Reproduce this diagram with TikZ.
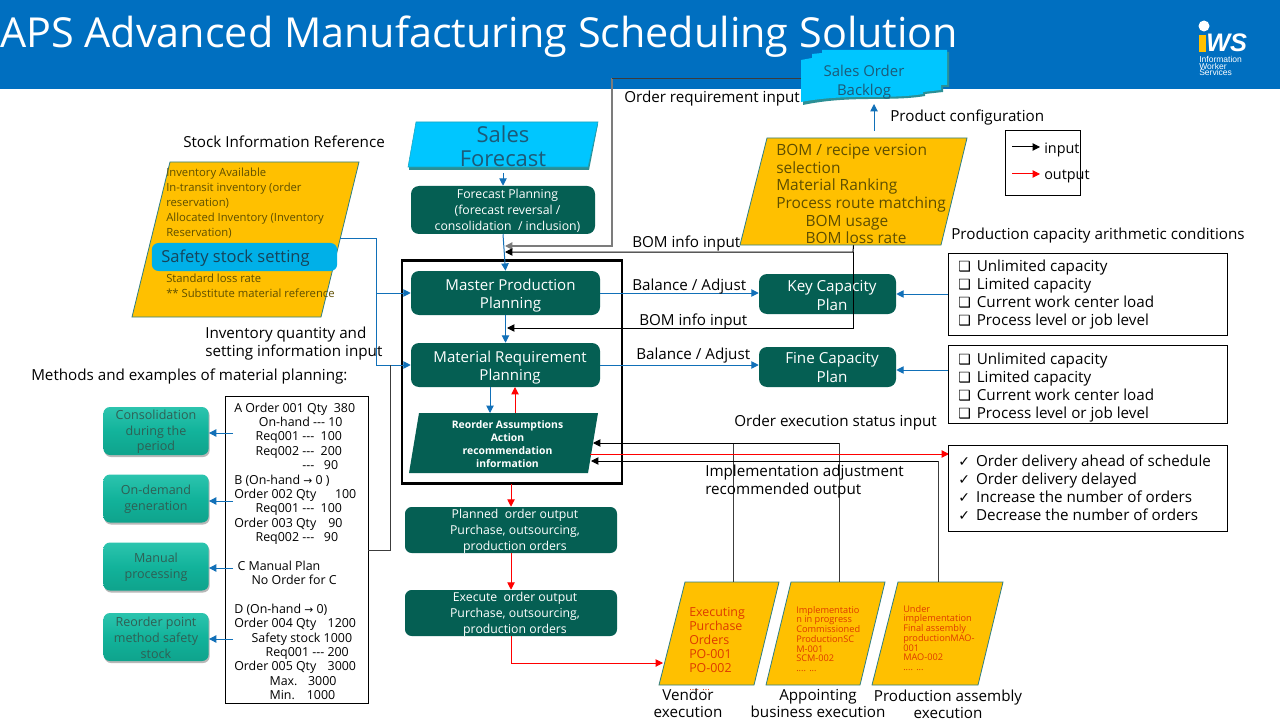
\documentclass[tikz,border=0pt]{standalone}
\usepackage{fontspec}
\setmainfont{Open Sans}
\newfontfamily\symfont{DejaVu Sans}
\newfontfamily\logofont{Liberation Sans}
\usetikzlibrary{arrows.meta,calc}
\definecolor{hdr}{HTML}{006FC0}
\definecolor{dkgreen}{HTML}{055F53}
\definecolor{yel}{HTML}{FFC000}
\definecolor{paraedge}{HTML}{2F7F85}
\definecolor{cyanf}{HTML}{00C6FF}
\definecolor{cyans}{HTML}{2C8F95}
\definecolor{pill}{HTML}{00B0E8}
\definecolor{olive}{HTML}{5E4E00}
\definecolor{navy}{HTML}{1D5A78}
\definecolor{linkblue}{HTML}{1170B8}
\definecolor{mint}{HTML}{12B39B}
\definecolor{mintl}{HTML}{2CC4AE}
\definecolor{mintb}{HTML}{0FA38C}
\definecolor{minttxt}{HTML}{2F5F54}
\definecolor{redtxt}{HTML}{DE3A00}
\definecolor{cgray}{HTML}{7C7C7C}
\definecolor{cdark}{HTML}{3C3C3C}
\newcommand{\fs}[1]{\fontsize{#1}{#1}\selectfont}
\newcommand{\fsl}[2]{\fontsize{#1}{#2}\selectfont}
\tikzset{
  x=0.75pt,y=-0.75pt,
  lbl/.style={anchor=mid west,inner sep=0pt,text=black,font=\fs{11.4},yshift=-2.25pt},
  lblm/.style={anchor=west,inner sep=0pt,align=left,text=black,font=\fsl{11.4}{13.5}},
  lblc/.style={inner sep=0pt,align=center,text=black,font=\fsl{11.4}{13}},
  proc/.style={draw=none,fill=dkgreen,rounded corners=6pt,inner sep=0pt},
  ptxt/.style={inner sep=0pt,align=center,text=white,font=\fsl{11.3}{14}},
  stxt/.style={inner sep=0pt,align=center,text=white,font=\fsl{9.2}{11.9}},
  mbox/.style={draw=none,top color=mintl,bottom color=mintb,middle color=mint,rounded corners=5pt,inner sep=0pt,
     minimum width=79pt,minimum height=36pt},
  mtext/.style={inner sep=0pt,align=center,text=minttxt,font=\fsl{9.4}{11.8}},
  mshadow/.style={fill=black!28,rounded corners=5pt,minimum width=79pt,minimum height=36pt,inner sep=0pt},
  framebox/.style={draw=black,line width=0.6pt,fill=white,inner sep=0pt},
  hit/.style={inner sep=0pt,draw=none},
  para/.style={fill=yel,draw=paraedge,line width=0.6pt},
  blue/.style={draw=linkblue,line width=0.75pt,-{Triangle[length=5.5pt,width=5.5pt]}},
  redl/.style={draw=red,line width=0.75pt,-{Triangle[length=5.5pt,width=5.5pt]}},
  blk/.style={draw=black,line width=0.75pt,-{Triangle[length=5.5pt,width=5.5pt]}},
  gry/.style={draw=cgray,line width=0.9pt,-{Triangle[length=5.5pt,width=5.5pt]}},
  plainv/.style={draw=cdark,line width=0.75pt},
  chk/.style={anchor=west,inner sep=0pt,align=left,text=black,font=\fsl{11.4}{13.5}},
}
\newcommand{\cb}{{\symfont\fs{10.5}❑}\hspace{4.5pt}}
\newcommand{\ck}{{\symfont\fs{10.5}✓}\hspace{4.5pt}}
\begin{document}
\begin{tikzpicture}
\useasboundingbox (0,0) rectangle (1280,720);
\fill[white] (0,0) rectangle (1280,720);
\fill[hdr] (0,0) rectangle (1280,89);
\node[anchor=mid west,inner sep=0pt,text=white,font=\fs{31}] (title) at (0,43.5) {APS Advanced Manufacturing Scheduling Solution};

% logo
\fill[white] (1204,26) circle (5.5);
\fill[yel] (1199,35) rectangle (1206,52);
\node[anchor=west,inner sep=0pt,text=white,font=\logofont\bfseries\itshape\fs{19}] (logows) at (1206,43) {WS};
\node[anchor=north west,inner sep=0pt,align=left,text=white,font=\logofont\fsl{6.4}{5}] (logotxt) at (1199,56) {Information\\Worker\\Services};

% main frame
\node[draw=black,line width=2.2pt,fill=white,minimum width=165pt,minimum height=167.5pt,inner sep=0pt] (frame) at (512,372) {};

% Sales order backlog
\path[fill=cyans] (803,62)--(814,60)--(814,56)--(824,55)--(824,52)--(949,52)--(949,87)--(943,87)--(943,92)--(925,94)--(925,96) .. controls (890,102) and (850,95) .. (803,105) --cycle;
\path[fill=cyanf] (801,60)--(812,58)--(812,54)--(822,53)--(822,50)--(947,50)--(947,85)--(941,85)--(941,90)--(923,92)--(923,94) .. controls (888,100) and (848,93) .. (801,102) --cycle;
\node[hit,minimum width=109pt,minimum height=39.75pt] (backlog) at (874,76.5) {};
\node[lblc,text=navy,font=\fsl{11.2}{14.2}] (backlogtxt) at (864,82) {Sales Order\\Backlog};

% Sales forecast
\path[fill=cyans] (409,167)--(417,124)--(598,124)--(589,170)--(409,170)--cycle;
\path[fill=cyanf,draw=cyans!60!cyanf,line width=0.4pt] (416,122)--(598,122)--(588,167)--(408,167)--cycle;
\node[hit,minimum width=142pt,minimum height=33.75pt] (forecast) at (503,150) {};
\node[lblc,text=navy,font=\fsl{16.5}{18.2}] (forecasttxt) at (503,146) {Sales\\Forecast};

% Stock info
\path[para] (170,162)--(359,162)--(321,317)--(132,317)--cycle;
\node[hit,minimum width=141pt,minimum height=116pt] (stock) at (245.5,239.5) {};
\node[anchor=north west,inner sep=0pt,align=left,text=olive,font=\fsl{8.45}{11.3}] (stocktxt1) at (166,167.5) {Inventory Available\\In-transit inventory (order\\reservation)};
\node[anchor=north west,inner sep=0pt,align=left,text=olive,font=\fsl{8.45}{11.3}] (stocktxt2) at (166,213) {Allocated Inventory (Inventory\\Reservation)};
\node[anchor=north west,inner sep=0pt,align=left,text=olive,font=\fsl{8.45}{11.3}] (stocktxt3) at (166,274) {Standard loss rate\\** Substitute material reference};
\node[fill=pill,rounded corners=5pt,minimum width=139pt,minimum height=21pt,inner sep=0pt] (pillbox) at (244.5,257) {};
\node[anchor=mid west,inner sep=0pt,text=navy!75!black,font=\fs{12.4}] (pilltxt) at (161,259) {Safety stock setting};

% BOM
\path[para] (767,138)--(967,138)--(941,245)--(740,245)--cycle;
\node[hit,minimum width=170.25pt,minimum height=80.25pt] (bom) at (853.5,191.5) {};
\node[anchor=north west,inner sep=0pt,align=left,text=olive,font=\fsl{11.6}{13.25}] (bomtxt) at (776,144) {BOM / recipe version\\selection\\Material Ranking\\Process route matching\\\hspace{22pt}BOM usage\\\hspace{22pt}BOM loss rate};

% green process nodes
\node[proc,minimum width=138pt,minimum height=36pt] (fp) at (503,210) {};
\node[stxt] (fptxt) at (507.5,211) {Forecast Planning\\(forecast reversal /\\consolidation\ \ / inclusion)};
\node[proc,minimum width=141.75pt,minimum height=33pt] (mps) at (505.5,293) {};
\node[ptxt] (mpstxt) at (510.5,295.5) {Master Production\\Planning};
\node[proc,minimum width=141.75pt,minimum height=33pt] (mrp) at (505.5,365) {};
\node[ptxt] (mrptxt) at (510,367.5) {Material Requirement\\Planning};
\path[fill=dkgreen] (419,413)--(598,413)--(588,473)--(409,473)--cycle;
\node[hit,minimum width=134.25pt,minimum height=45pt] (reorder) at (503.5,443) {};
\node[inner sep=0pt,align=center,text=white,font=\bfseries\fsl{7.8}{9.8}] (reordertxt) at (507.5,444) {Reorder Assumptions\\Action\\recommendation\\information};
\node[proc,minimum width=159pt,minimum height=34.5pt,rounded corners=5pt] (planned) at (511,530) {};
\node[stxt] (plannedtxt) at (515,531.5) {Planned\ \ order output\\Purchase, outsourcing,\\production orders};
\node[proc,minimum width=159pt,minimum height=34.5pt,rounded corners=5pt] (execute) at (511,613) {};
\node[stxt] (executetxt) at (515,614.5) {Execute\ \ order output\\Purchase, outsourcing,\\production orders};
\node[proc,minimum width=102.75pt,minimum height=30pt] (key) at (827.5,294) {};
\node[proc,minimum width=102.75pt,minimum height=30pt] (fine) at (827.5,367) {};

% method nodes
\node[mshadow] (s1) at (157,433) {};
\node[mshadow] (s2) at (157,500.5) {};
\node[mshadow] (s3) at (157,568.5) {};
\node[mshadow] (s4) at (157,639) {};
\node[mbox] (m1) at (156,431) {};
\node[mbox] (m2) at (156,498.5) {};
\node[mbox] (m3) at (156,566.5) {};
\node[mbox] (m4) at (156,637) {};
\node[mtext] (m1t) at (156,432) {Consolidation\\during the\\period};
\node[mtext] (m2t) at (156,499.5) {On-demand\\generation};
\node[mtext] (m3t) at (156,567.5) {Manual\\processing};
\node[mtext] (m4t) at (156,638) {Reorder point\\method safety\\stock};

% method text box
\node[framebox,minimum width=107.25pt,minimum height=230.25pt] (methods) at (296.5,550) {};
\node[anchor=north west,inner sep=0pt,align=left,font=\fsl{9.3}{10.78}] (mtxt) at (234,402.5) {%
A Order 001 Qty\ \ 380\\
\hspace{18.5pt}On-hand -{}-{}- 10\\
\hspace{16pt}Req001 -{}-{}-\ \ 100\\
\hspace{16pt}Req002 -{}-{}-\ \ 200\\
\hspace{51pt}-{}-{}-\ \ \ 90\\
B (On-hand {\symfont\fs{8}→} 0 )\\
Order 002 Qty\hspace{14pt}100\\
\hspace{16pt}Req001 -{}-{}-\ \ 100\\
Order 003 Qty\hspace{9pt}90\\
\hspace{16pt}Req002 -{}-{}-\ \ \ 90\\
\\
\hspace{2.5pt}C Manual Plan\\
\hspace{13pt}No Order for C\\
\\
D (On-hand {\symfont\fs{8}→} 0)\\
Order 004 Qty\hspace{8.5pt}1200\\
\hspace{13pt}Safety stock 1000\\
\hspace{23.5pt}Req001 -{}-{}- 200\\
Order 005 Qty\hspace{8.5pt}3000\\
\hspace{26.5pt}Max.\hspace{8pt}3000\\
\hspace{26.5pt}Min.\hspace{9pt}1000};

% execution parallelograms
\path[para] (685,582)--(779,582)--(754,685)--(659,685)--cycle;
\path[para] (791,582)--(885,582)--(860,685)--(766,685)--cycle;
\path[para] (898,582)--(1003,582)--(978,685)--(872,685)--cycle;
\node[hit,minimum width=60pt,minimum height=77.25pt] (exa) at (719,633.5) {};
\node[hit,minimum width=60pt,minimum height=77.25pt] (exb) at (825.5,633.5) {};
\node[hit,minimum width=60pt,minimum height=77.25pt] (exc) at (937.5,633.5) {};
\node[anchor=north west,inner sep=0pt,align=left,text=redtxt,font=\fsl{9.3}{10.5}] (exatxt) at (689,607.5) {Executing\\Purchase\\Orders\\PO-001\\PO-002\\[3pt]\fs{7}.... ...};
\node[anchor=north west,inner sep=0pt,align=left,text=redtxt,font=\fsl{6.9}{7.27}] (exbtxt) at (796,606) {Implementatio\\n in progress\\Commissioned\\ProductionSC\\M-001\\SCM-002\\.... ...};
\node[anchor=north west,inner sep=0pt,align=left,text=redtxt,font=\fsl{6.9}{7.27}] (exctxt) at (903,605) {Under\\implementation\\Final assembly\\productionMAO-\\001\\MAO-002\\.... ...};

% black info coordinates
\coordinate (bomturn1) at (853,252);
\coordinate (bomend1) at (505,252);
\coordinate (bomturn2) at (853,328);
\coordinate (ordA) at (733,443);
\coordinate (ordB) at (839,443);
\coordinate (ordC) at (938,461);
\coordinate (tipA) at (593,443);
\coordinate (tipC) at (591,461);
\coordinate (stockout) at (340,239);
\coordinate (grayA) at (612,78);
\coordinate (grayB) at (612,246);
\coordinate (grayC) at (505,246);

% connectors
\draw[blue] (forecast.south) -- (fp.north -| forecast.south);
\draw[blue] (fp.south) -- (mps.north);
\draw[gry] (grayA) -- (grayB) -- (grayC);
\draw[plainv,line width=0.6pt] (backlog.west |- grayA) -- (grayA);
\draw[blk] (bom.south) -- (bomturn1) -- (bomend1);
\draw[blk] (bomturn1) -- (bomturn2) -- (507,328);
\draw[blue] (mps.south) -- (mrp.north);
\draw[blue] (490,387) -- (490,413);
\draw[redl] (515,413) -- (515,387);
\draw[blue] (stockout) -- (376,239) -- (376,293) -- (mps.west);
\draw[blue] (376,293) -- (376,365) -- (mrp.west);
\draw[plainv,line width=0.6pt] (methods.east |- 0,550) -- (390,550) -- (390,365);
\draw[blue] (mps.east) -- (key.west |- mps.east);
\draw[blue] (mrp.east) -- (fine.west |- mrp.east);
\draw[plainv] (exa.north -| ordA) -- (ordA);
\draw[plainv] (exb.north -| ordB) -- (ordB);
\draw[plainv] (exc.north -| ordC) -- (ordC);
\draw[blk] (ordA) -- (tipA);
\draw[draw=black,line width=0.75pt] (ordB) -- (ordA);
\draw[blk] (ordC) -- (tipC);
\draw[redl] (590,454) -- (949,454);
\draw[redl] (511,484) -- (planned.north);
\draw[redl] (planned.south) -- (execute.north);
\draw[redl] (execute.south) -- (511,663) -- (663,663);
\draw[blue] (874,131) -- (874,104);

% method arrows
\draw[blue] (233,433) -- (m1.east |- 0,433);
\draw[blue] (233,501) -- (m2.east |- 0,501);
\draw[blue] (233,568) -- (m3.east |- 0,568);
\draw[blue] (233,639) -- (m4.east |- 0,639);

% capacity text on top of line
\node[inner sep=0pt,align=center,text=white,font=\fsl{11.4}{14}] (keytxt) at (832,295.5) {Key Capacity\\Plan};
\node[inner sep=0pt,align=center,text=white,font=\fsl{11.4}{14}] (finetxt) at (832,367.5) {Fine Capacity\\Plan};

% right boxes
\node[framebox,minimum width=209.25pt,minimum height=61.5pt] (cap1) at (1087.5,294) {};
\node[framebox,minimum width=209.25pt,minimum height=58.5pt] (cap2) at (1087.5,384) {};
\node[framebox,minimum width=209.25pt,minimum height=64.5pt] (stat) at (1087.5,488) {};
\node[chk] (cap1t) at (958,295) {\cb Unlimited capacity\\\cb Limited capacity\\\cb Current work center load\\\cb Process level or job level};
\node[chk] (cap2t) at (958,388) {\cb Unlimited capacity\\\cb Limited capacity\\\cb Current work center load\\\cb Process level or job level};
\node[chk] (statt) at (958,487.5) {\ck Order delivery ahead of schedule\\\ck Order delivery delayed\\\ck Increase the number of orders\\\ck Decrease the number of orders};
\draw[blue] (cap1.west) -- (key.east);
\draw[blue] (cap2.west |- 0,370) -- (fine.east |- 0,370);

% legend
\node[framebox,minimum width=56.25pt,minimum height=48.75pt] (legend) at (1042.5,162.5) {};
\coordinate (lega) at (1012,147);
\coordinate (legb) at (1040,147);
\coordinate (legc) at (1012,174);
\coordinate (legd) at (1040,174);
\draw[blk] (lega) -- (legb);
\draw[redl] (legc) -- (legd);
\node[lbl,font=\fs{10.8}] (legin) at (1044,147) {input};
\node[lbl,font=\fs{10.8}] (legout) at (1044,172.5) {output};

% labels
\node[lbl] (l1) at (183,141) {Stock Information Reference};
\node[lbl] (l2) at (624,96) {Order requirement input};
\node[lbl] (l3) at (890,115) {Product configuration};
\node[lbl] (l4) at (632,241) {BOM info input};
\node[lbl] (l5) at (951,233) {Production capacity arithmetic conditions};
\node[lbl] (l6) at (632,284) {Balance / Adjust};
\node[lbl] (l7) at (639,319) {BOM info input};
\node[lbl] (l8) at (636,353) {Balance / Adjust};
\node[lblm] (l9) at (205,344) {Inventory quantity and\\setting information input};
\node[lbl] (l10) at (31,374) {Methods and examples of material planning:};
\node[lbl] (l11) at (734,420) {Order execution status input};
\node[lblm] (l12) at (705,482) {Implementation adjustment\\recommended output};
\node[lblc] (l13) at (688,703.5) {Vendor\\execution};
\node[lblc] (l14) at (818,703.5) {Appointing\\business execution};
\node[lblc] (l15) at (948,704) {Production assembly\\execution};
\end{tikzpicture}
\end{document}
